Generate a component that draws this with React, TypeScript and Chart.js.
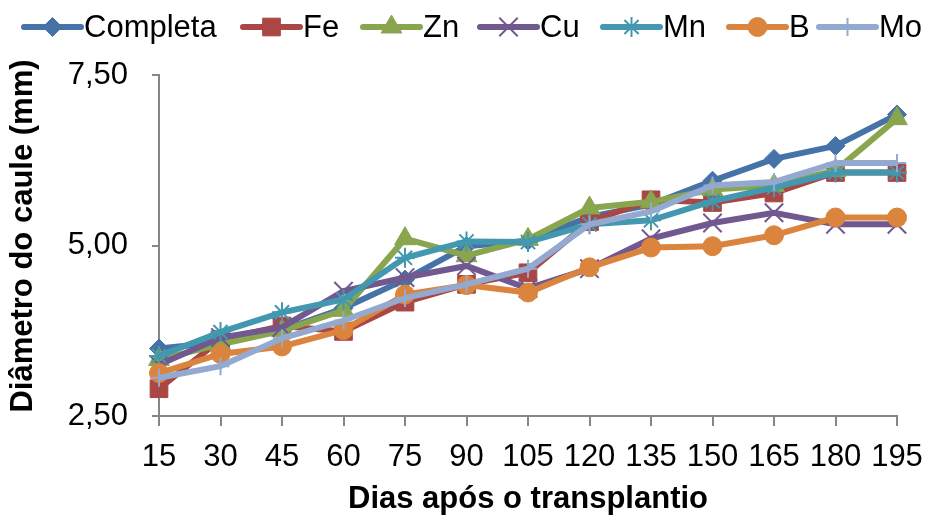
import React, { useEffect, useRef } from 'react';
import { Chart, registerables } from 'chart.js';
import { drawPoint } from 'chart.js/helpers';

Chart.register(...registerables);

const days = ['15', '30', '45', '60', '75', '90', '105', '120', '135', '150', '165', '180', '195'];
const seriesNames = ['Completa', 'Fe', 'Zn', 'Cu', 'Mn', 'B', 'Mo'];
const completa = [3.49, 3.58, 3.76, 4.08, 4.5, 4.99, 5.07, 5.42, 5.6, 5.95, 6.27, 6.46, 6.92];
const fe = [2.9, 3.62, 3.82, 3.74, 4.17, 4.43, 4.6, 5.35, 5.67, 5.63, 5.77, 6.07, 6.07];
const zn = [3.33, 3.55, 3.75, 4.05, 5.1, 4.85, 5.09, 5.55, 5.64, 5.82, 5.88, 6.1, 6.86];
const cu = [3.25, 3.65, 3.8, 4.33, 4.53, 4.7, 4.37, 4.66, 5.1, 5.33, 5.48, 5.31, 5.31];
const mn = [3.38, 3.73, 4.02, 4.21, 4.82, 5.06, 5.05, 5.31, 5.37, 5.65, 5.85, 6.07, 6.07];
const b = [3.13, 3.41, 3.52, 3.76, 4.28, 4.42, 4.31, 4.68, 4.97, 4.99, 5.15, 5.41, 5.41];
const mo = [3.06, 3.23, 3.64, 3.9, 4.23, 4.43, 4.66, 5.31, 5.5, 5.88, 5.93, 6.21, 6.21];
const seriesValues = [completa, fe, zn, cu, mn, b, mo];
const seriesColors = ['#4572A7', '#AA4643', '#89A54E', '#71588F', '#4198AF', '#DB843D', '#93A9CF'];
const pointStyles = ['rectRot', 'rect', 'triangle', 'crossRot', 'star', 'circle', 'cross'];
const pointRadii = [9.5, 12.5, 12, 13, 10, 9.5, 9];
const pointBorders = [1, 1, 1, 2, 2, 1, 2];
const legendStarts = [24, 243, 363, 480, 603, 729, 819];
const yMin = 2.5;
const yMax = 7.5;
const yStep = 2.5;
const xTitle = 'Dias após o transplantio';
const yTitle = 'Diâmetro do caule (mm)';

const FONT = '"Liberation Sans", Arial, sans-serif';

const legendPlugin = {
  id: 'lineLegend',
  afterDraw(chart: any) {
    const ctx = chart.ctx as CanvasRenderingContext2D;
    ctx.save();
    ctx.font = `31px ${FONT}`;
    const y = 27;
    chart.data.datasets.forEach((ds: any, i: number) => {
      const x = legendStarts[i];
      ctx.strokeStyle = ds.borderColor;
      ctx.lineWidth = 6;
      ctx.lineCap = 'round';
      ctx.beginPath();
      ctx.moveTo(x, y);
      ctx.lineTo(x + 57, y);
      ctx.stroke();
      ctx.lineCap = 'butt';
      ctx.fillStyle = ds.pointBackgroundColor;
      ctx.strokeStyle = ds.pointBorderColor;
      ctx.lineWidth = ds.pointBorderWidth;
      drawPoint(ctx, { pointStyle: ds.pointStyle, rotation: 0, radius: ds.pointRadius, borderWidth: ds.pointBorderWidth } as any, x + 28.5, y);
      ctx.fillStyle = '#000';
      ctx.textBaseline = 'middle';
      ctx.textAlign = 'left';
      ctx.fillText(ds.label, x + 60, y + 1);
    });
    // y axis title
    ctx.font = `bold 31px ${FONT}`;
    ctx.translate(23, 236);
    ctx.rotate(-Math.PI / 2);
    ctx.textAlign = 'center';
    ctx.textBaseline = 'middle';
    ctx.fillText(yTitle, 0, 0);
    ctx.restore();
  },
};

export default function App() {
  const ref = useRef<HTMLCanvasElement>(null);
  useEffect(() => {
    if (!ref.current) return;
    Chart.defaults.font.family = FONT;
    const chart = new Chart(ref.current, {
      type: 'line',
      data: {
        labels: days,
        datasets: seriesNames.map((name, i) => ({
          label: name,
          data: seriesValues[i],
          borderColor: seriesColors[i],
          backgroundColor: seriesColors[i],
          borderWidth: 6,
          pointStyle: pointStyles[i] as any,
          pointRadius: pointRadii[i],
          pointHoverRadius: pointRadii[i],
          pointBackgroundColor: seriesColors[i],
          pointBorderColor: seriesColors[i],
          pointBorderWidth: pointBorders[i],
          tension: 0,
          fill: false,
          order: seriesNames.length - i,
        })),
      },
      options: {
        responsive: false,
        animation: false,
        events: [],
        layout: { padding: { top: 75, right: 39, left: 0, bottom: 0 } },
        plugins: { legend: { display: false }, tooltip: { enabled: false } },
        scales: {
          x: {
            type: 'category',
            offset: false,
            grid: { display: true, drawOnChartArea: false, drawTicks: true, tickLength: 10, color: '#868686', lineWidth: 2 },
            border: { display: true, color: '#868686', width: 2 },
            ticks: { color: '#000', font: { size: 31 }, padding: 13, maxRotation: 0, autoSkip: false },
            title: { display: true, text: xTitle, color: '#000', font: { size: 31, weight: 'bold' }, padding: { top: 0, bottom: 0 } },
            afterFit: (s: any) => { s.height = 102; },
          },
          y: {
            min: yMin,
            max: yMax,
            grid: { display: true, drawOnChartArea: false, drawTicks: true, tickLength: 7, color: '#868686', lineWidth: 2 },
            border: { display: true, color: '#868686', width: 2 },
            ticks: {
              stepSize: yStep,
              color: '#000',
              font: { size: 31 },
              padding: 24,
              callback: (v: any) => Number(v).toFixed(2).replace('.', ','),
            },
            afterFit: (s: any) => { s.width = 159; },
          },
        },
      },
      plugins: [legendPlugin],
    });
    return () => chart.destroy();
  }, []);
  return (
    <div style={{ position: 'absolute', left: 0, top: 0, width: 936, height: 518, background: '#fff' }}>
      <canvas ref={ref} width={936} height={518} style={{ display: 'block' }} />
    </div>
  );
}
